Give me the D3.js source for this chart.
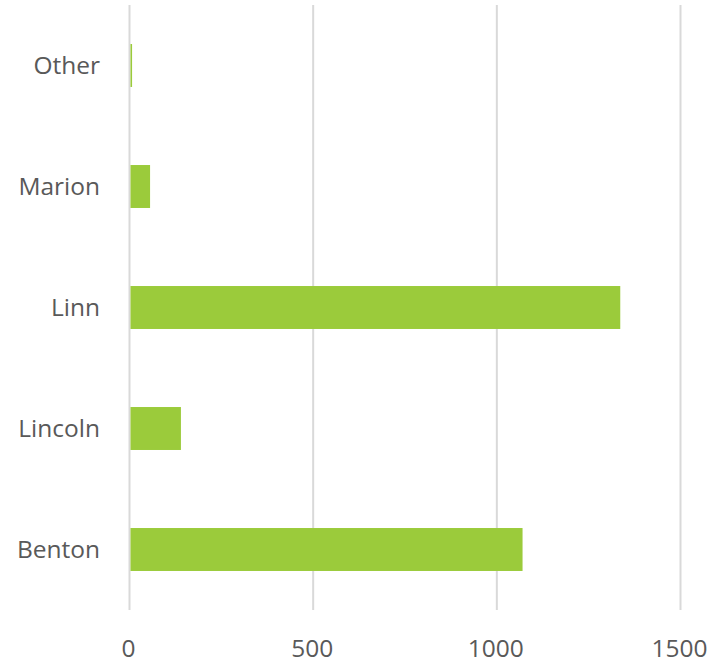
<!DOCTYPE html>
<html><head><meta charset="utf-8">
<script src="https://cdn.jsdelivr.net/npm/d3@7"></script>
<style>body{margin:0;background:#fff}</style>
</head><body>
<svg id="c" width="712" height="663"></svg>
<script>
const categories = ["Other", "Marion", "Linn", "Lincoln", "Benton"];
const values = [7, 56, 1336, 140, 1070];
const ticks = [0, 500, 1000, 1500];

const svg = d3.select("#c");
const x = d3.scaleLinear().domain([0, 1500]).range([129.5, 680.5]);
const y = d3.scaleBand().domain(categories).range([5, 610]).paddingInner(0.645).paddingOuter(0.3225);

svg.append("g").selectAll("line").data(ticks).join("line")
  .attr("x1", d => x(d)).attr("x2", d => x(d))
  .attr("y1", 5).attr("y2", 610)
  .attr("stroke", "#d9d9d9").attr("stroke-width", 2);

svg.append("g").selectAll("rect").data(categories).join("rect")
  .attr("x", x(0) + 1)
  .attr("y", d => y(d))
  .attr("width", (d, i) => Math.max(0, x(values[i]) - x(0) - 1))
  .attr("height", y.bandwidth())
  .attr("fill", "#9bcb3b");

const font = "'Open Sans', sans-serif";
svg.append("g").selectAll("text").data(categories).join("text")
  .attr("x", 100).attr("y", d => y(d) + y.bandwidth() / 2)
  .attr("dy", "0.35em")
  .attr("text-anchor", "end")
  .attr("font-family", font).attr("font-size", 24.5)
  .attr("fill", "#595959")
  .text(d => d);

svg.append("g").selectAll("text").data(ticks).join("text")
  .attr("x", d => x(d) - 1).attr("y", 657)
  .attr("text-anchor", "middle")
  .attr("font-family", font).attr("font-size", 24.5)
  .attr("fill", "#595959")
  .text(d => d);
</script>
</body></html>
